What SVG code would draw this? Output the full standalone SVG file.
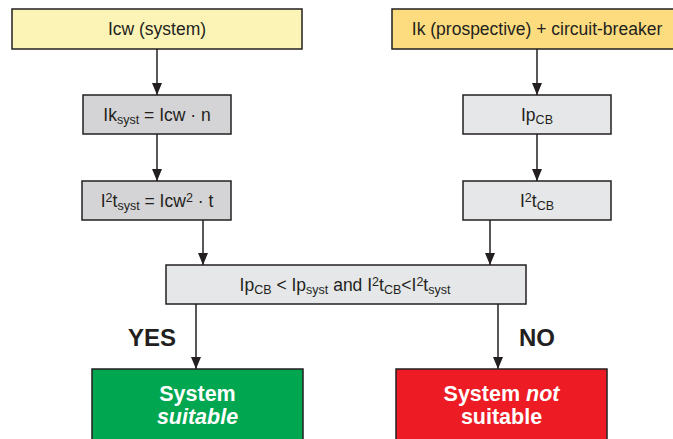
<svg xmlns="http://www.w3.org/2000/svg" width="673" height="439" viewBox="0 0 673 439">
<style>
  .box{stroke:#231f20;stroke-width:1.5}
  .t{font-family:"Liberation Sans",Arial,sans-serif;font-size:17.5px;fill:#231f20;text-anchor:middle}
  .sub{font-size:12.5px}
  .sup{font-size:12.5px}
  .b{font-family:"Liberation Sans",Arial,sans-serif;font-weight:bold;font-size:21.5px;fill:#fff;text-anchor:middle}
  .lbl{font-family:"Liberation Sans",Arial,sans-serif;font-weight:bold;font-size:24px;fill:#231f20}
  .c{stroke:#231f20;stroke-width:1.5;fill:none}
</style>
<defs>
  <marker id="ah" markerUnits="userSpaceOnUse" markerWidth="12" markerHeight="10" viewBox="0 0 12 10" refX="12" refY="5" orient="auto">
    <path d="M0,0 L12,5 L0,10 Z" fill="#231f20"/>
  </marker>
</defs>
<rect width="673" height="439" fill="#fff"/>
<g id="connectors">
  <path class="c" d="M157,49 V95" marker-end="url(#ah)"/>
  <path class="c" d="M537,49 V95" marker-end="url(#ah)"/>
  <path class="c" d="M157,134 V181" marker-end="url(#ah)"/>
  <path class="c" d="M537,134 V181" marker-end="url(#ah)"/>
  <path class="c" d="M203,220 V265" marker-end="url(#ah)"/>
  <path class="c" d="M490,220 V265" marker-end="url(#ah)"/>
  <path class="c" d="M196,304 V369" marker-end="url(#ah)"/>
  <path class="c" d="M498,304 V369" marker-end="url(#ah)"/>
</g>
<g id="icw">
  <rect class="box" x="12" y="9" width="290" height="40" fill="#fcf4b6"/>
  <text class="t" x="157" y="35">Icw (system)</text>
</g>
<g id="ik">
  <rect class="box" x="392" y="9" width="290" height="40" fill="#fcdc7e"/>
  <text class="t" x="537" y="35">Ik (prospective) + circuit-breaker</text>
</g>
<g id="iksyst">
  <rect class="box" x="83" y="95" width="148" height="39" fill="#d4d4d6"/>
  <text class="t" x="157" y="120.5">Ik<tspan class="sub" dy="3.5">syst</tspan><tspan dy="-3.5"> = Icw · n</tspan></text>
</g>
<g id="ipcb">
  <rect class="box" x="463" y="95" width="148" height="39" fill="#e6e7e9"/>
  <text class="t" x="537" y="120.5">Ip<tspan class="sub" dy="3.5">CB</tspan></text>
</g>
<g id="i2tsyst">
  <rect class="box" x="82" y="181" width="149" height="39" fill="#d4d4d6"/>
  <text class="t" x="157" y="206.5">I<tspan class="sup" dy="-4.5">2</tspan><tspan dy="4.5">t</tspan><tspan class="sub" dy="3.5">syst</tspan><tspan dy="-3.5"> = Icw</tspan><tspan class="sup" dy="-4.5">2</tspan><tspan dy="4.5"> · t</tspan></text>
</g>
<g id="i2tcb">
  <rect class="box" x="463" y="181" width="148" height="39" fill="#e6e7e9"/>
  <text class="t" x="537" y="206.5">I<tspan class="sup" dy="-4.5">2</tspan><tspan dy="4.5">t</tspan><tspan class="sub" dy="3.5">CB</tspan></text>
</g>
<g id="decision">
  <rect class="box" x="166" y="265" width="360" height="39" fill="#e6e7e9"/>
  <text class="t" x="345" y="290.5">Ip<tspan class="sub" dy="3.5">CB</tspan><tspan dy="-3.5"> &lt; Ip</tspan><tspan class="sub" dy="3.5">syst</tspan><tspan dy="-3.5"> and I</tspan><tspan class="sup" dy="-4.5">2</tspan><tspan dy="4.5">t</tspan><tspan class="sub" dy="3.5">CB</tspan><tspan dy="-3.5">&lt;I</tspan><tspan class="sup" dy="-4.5">2</tspan><tspan dy="4.5">t</tspan><tspan class="sub" dy="3.5">syst</tspan></text>
</g>
<text class="lbl" x="128" y="346">YES</text>
<text class="lbl" x="519" y="346">NO</text>
<g id="suitable">
  <rect class="box" x="92" y="369" width="211" height="80" fill="#00a650"/>
  <text class="b" x="197.5" y="401">System</text>
  <text class="b" x="197.5" y="424" font-style="italic">suitable</text>
</g>
<g id="notsuitable">
  <rect class="box" x="396" y="369" width="211" height="80" fill="#ed1c24"/>
  <text class="b" x="501.5" y="401">System <tspan font-style="italic">not</tspan></text>
  <text class="b" x="501.5" y="424">suitable</text>
</g>
</svg>
